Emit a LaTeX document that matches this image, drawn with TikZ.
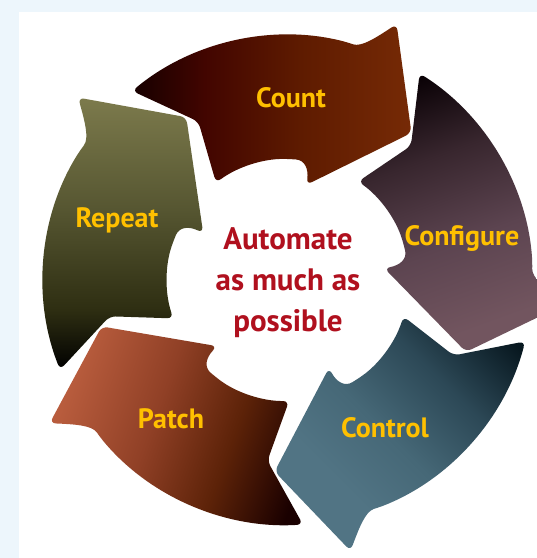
\documentclass[tikz,border=0pt]{standalone}
\usepackage{fontspec}
\setmainfont{PT Sans}
\usepackage{tikz}

\definecolor{pagebg}{HTML}{EDF6FC}
\definecolor{gold}{HTML}{FFC000}
\definecolor{motto}{HTML}{B0101E}
% block colours, dark end first
\definecolor{countA}{HTML}{160000}
\definecolor{countB}{HTML}{420500}
\definecolor{countC}{HTML}{5E1B00}
\definecolor{countD}{HTML}{762A06}
\definecolor{confA}{HTML}{080004}
\definecolor{confB}{HTML}{38262E}
\definecolor{confC}{HTML}{5C4450}
\definecolor{confD}{HTML}{72555F}
\definecolor{ctrlA}{HTML}{081820}
\definecolor{ctrlB}{HTML}{2C4856}
\definecolor{ctrlC}{HTML}{466877}
\definecolor{ctrlD}{HTML}{517484}
\definecolor{patchA}{HTML}{1A0000}
\definecolor{patchB}{HTML}{5C2208}
\definecolor{patchC}{HTML}{904026}
\definecolor{patchD}{HTML}{B85C3D}
\definecolor{rptA}{HTML}{000000}
\definecolor{rptB}{HTML}{2E2E12}
\definecolor{rptC}{HTML}{575732}
\definecolor{rptD}{HTML}{7C7A4C}

\pgfdeclarehorizontalshading{countshade}{100bp}{color(0bp)=(countA); color(25bp)=(countA); color(38bp)=(countB); color(55bp)=(countC); color(75bp)=(countD); color(100bp)=(countD)}
\pgfdeclarehorizontalshading{confshade}{100bp}{color(0bp)=(confA); color(22bp)=(confA); color(38bp)=(confB); color(55bp)=(confC); color(72bp)=(confD); color(100bp)=(confD)}
\pgfdeclarehorizontalshading{ctrlshade}{100bp}{color(0bp)=(ctrlA); color(20bp)=(ctrlA); color(36bp)=(ctrlB); color(52bp)=(ctrlC); color(66bp)=(ctrlD); color(100bp)=(ctrlD)}
\pgfdeclarehorizontalshading{patchshade}{100bp}{color(0bp)=(patchA); color(22bp)=(patchA); color(38bp)=(patchB); color(55bp)=(patchC); color(74bp)=(patchD); color(100bp)=(patchD)}
\pgfdeclarehorizontalshading{rptshade}{100bp}{color(0bp)=(rptA); color(25bp)=(rptA); color(36bp)=(rptB); color(55bp)=(rptC); color(75bp)=(rptD); color(100bp)=(rptD)}

% one block of the cycle, #1 = turn in degrees
\newcommand{\cyclearrow}[1]{%
  ({#1+129.5}:245pt)
  arc[start angle={#1+129.5}, end angle={#1+76}, radius=245pt]
  .. controls ({#1+72.5}:244pt) and ({#1+70}:258pt) .. ({#1+67}:278pt)
  -- ({#1+50}:192pt)
  -- ({#1+79}:97pt)
  .. controls ({#1+79.5}:113pt) and ({#1+82}:121pt) .. ({#1+89}:121pt)
  arc[start angle={#1+89}, end angle={#1+126.5}, radius=121pt]
  -- ({#1+119.5}:182pt)
  -- cycle}

\begin{document}
\begin{tikzpicture}[
  block/.style={rounded corners=6pt},
  steplabel/.style={anchor=base, text=gold, font=\fontsize{28}{32}\selectfont\bfseries},
  goal/.style={align=center, text=motto, font=\fontsize{31}{41}\selectfont\bfseries}
]
  \fill[pagebg] (-288pt,-278pt) rectangle (249pt,280pt);
  \clip (-288pt,-278pt) rectangle (249pt,280pt);
  \fill[white] (-269pt,-278pt) rectangle (249pt,268pt);

  \shade[block, shading=countshade, shading angle=0] \cyclearrow{0};
  \shade[block, shading=confshade, shading angle=-70] \cyclearrow{-72};
  \shade[block, shading=ctrlshade, shading angle=225] \cyclearrow{-144};
  \shade[block, shading=patchshade, shading angle=160] \cyclearrow{-216};
  \shade[block, shading=rptshade, shading angle=90] \cyclearrow{-288};

  \node[steplabel] (count) at (3pt,173pt) {Count};
  \node[steplabel] (configure) at (174pt,35pt) {Configure};
  \node[steplabel] (control) at (97pt,-157pt) {Control};
  \node[steplabel] (patch) at (-117pt,-148pt) {Patch};
  \node[steplabel] (repeat) at (-171pt,53pt) {Repeat};

  \node[goal] (aim) at (0pt,-3pt) {Automate\\as much as\\possible};
\end{tikzpicture}
\end{document}
